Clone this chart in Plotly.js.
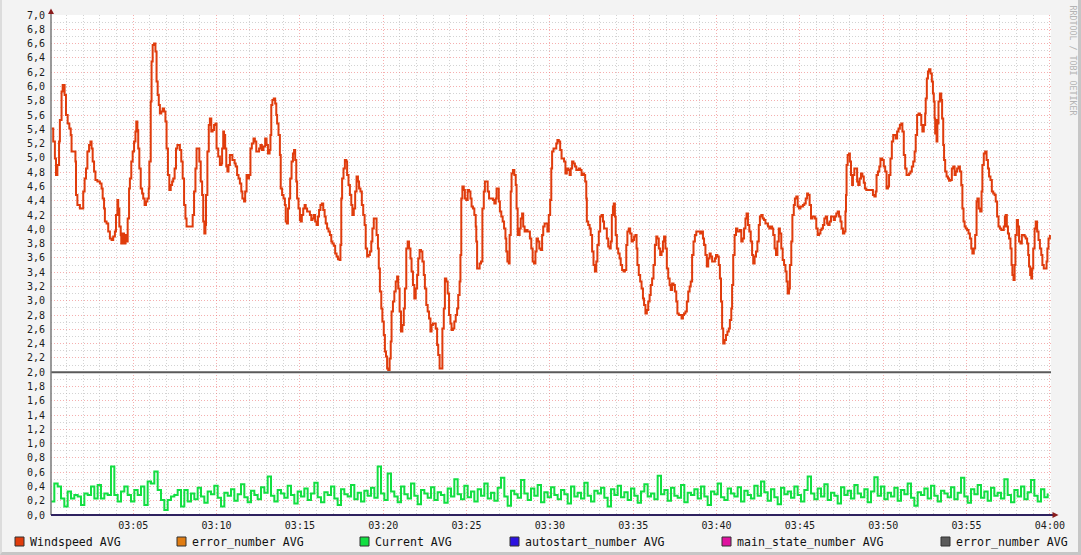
<!DOCTYPE html>
<html><head><meta charset="utf-8">
<script src="https://cdn.plot.ly/plotly-3.0.1.min.js"></script>
<style>
html,body{margin:0;padding:0;background:#f3f3f3;}
#wrap{position:relative;width:1081px;height:555px;overflow:hidden;}
#chart{width:1081px;height:555px;}
#frame{position:absolute;left:0;top:0;width:1081px;height:555px;box-sizing:border-box;border-right:3px solid #c6c6c6;border-bottom:3px solid #c6c6c6;border-left:2px solid #dcdcdc;pointer-events:none;}
</style></head>
<body><div id="wrap"><div id="chart"></div><div id="frame"></div></div>
<script>
// ---- data (seconds after chart start, 03:00:04) ----
const windTimes = [2,8,14,18,23,29,32,38,42,49,54,60,66,71,74,83,88,90,95,104,112,116,121,126,131,137,142,146,150,155,160,167,176,182,186,191,194,200,206,212,218,224,230,234,239,242,246,251,253,258,263,268,272,276,281,284,289,294,299,304,307,311,314,318,323,328,332,337,342,347,352,354,359,362,366,371,376,380,384,388,392,397,402,407,412,416,421,426,431,436,440,445,450,455,460,464,469,474,479,484,488,498,505,510,515,520,524,529,534,539,544,548,552,556,558,563,568,572,577,582,587,592,596,602,608,
613,616,620,623,627,631,635,639,644,649,653,661,665,670,675,680,685,689,695,699,704,709,713,718,723,729,734,739,745,749,754,759,765,771,776,781,787,790,793,797,802,807,811,814,819,824,827,832,837,842,845,849,853,857,861,866,871,875,879,883,886,891,896,899,903,908,913,917,922,927,932,937,941,946,951,956,961,965,970,975,980,985,989,994,999,1004,1009,1013,1018,1023,1028,1033,1039,1042,1045,1048,1053,1058,1063,1066,1071,1076,1081,1085,1090,1095,1100,1105,1109,1114,1119,1124,1129,1133,1138,1143,1148,1153,1157,1162,1167,1172,1177,1180,1184,1189,1193,1198,1202,
1206,1210,1214,1219,1223,1226,1231,1236,1241,1246,1250,1255,1260,1265,1270,1274,1279,1284,1289,1294,1298,1303,1308,1313,1318,1322,1327,1332,1337,1342,1346,1351,1356,1361,1366,1370,1375,1380,1385,1390,1394,1399,1404,1409,1414,1418,1423,1428,1433,1438,1442,1447,1452,1457,1462,1466,1471,1474,1477,1481,1486,1490,1495,1500,1505,1510,1514,1519,1524,1529,1531,1534,1538,1543,1548,1553,1558,1562,1567,1572,1577,1582,1586,1591,1596,1601,1604,1608,1612,1616,1621,1626,1631,1636,1639,1643,1648,1651,1655,1658,1663,1668,1673,1676,1680,1684,1687,1691,1696,1700,1705,1710,1715,1720,1724,1729,1734,1739,1744,1748,1753,1758,1763,1768,1772,1777,1782,1787,1792,1797,
1801,1804,1809,1814,1819,1823,1828,1833,1838,1843,1847,1852,1857,1862,1867,1871,1876,1881,1886,1891,1895,1900,1905,1910,1915,1919,1923,1927,1929,1934,1939,1943,1948,1953,1958,1963,1967,1972,1977,1982,1987,1991,1996,2001,2006,2011,2015,2019,2023,2026,2030,2033,2037,2042,2047,2051,2056,2061,2066,2071,2075,2080,2085,2090,2095,2099,2104,2108,2111,2116,2121,2126,2131,2135,2140,2145,2150,2155,2159,2164,2169,2174,2179,2183,2188,2193,2198,2203,2207,2212,2217,2222,2227,2231,2236,2241,2246,2251,2255,2260,2265,2270,2275,2279,2284,2289,2294,2299,2303,2308,2313,2318,2323,2327,2332,2337,2342,2347,2351,2356,2361,2366,2371,2375,2380,2385,2390,
2394,2399,2404,2408,2412,2416,2420,2425,2430,2435,2440,2444,2449,2452,2456,2461,2466,2471,2476,2480,2485,2490,2495,2500,2504,2509,2514,2519,2524,2528,2533,2538,2543,2548,2552,2557,2562,2567,2572,2576,2581,2586,2591,2596,2600,2605,2610,2615,2620,2624,2629,2634,2639,2644,2648,2652,2657,2660,2665,2669,2674,2678,2683,2688,2693,2698,2702,2707,2712,2717,2722,2726,2731,2736,2741,2746,2750,2755,2760,2765,2770,2774,2779,2784,2789,2794,2798,2803,2808,2813,2818,2822,2827,2832,2837,2842,2846,2851,2856,2860,2862,2864,2868,2873,2876,2880,2884,2887,2892,2897,2902,2906,2911,2916,2921,2926,2930,2935,2940,2945,2950,2954,2959,2964,2969,2972,2977,2982,2986,
2993,2998,3003,3008,3013,3017,3022,3027,3032,3037,3041,3046,3051,3056,3061,3065,3070,3075,3080,3085,3089,3094,3099,3104,3109,3113,3118,3123,3128,3133,3137,3142,3147,3149,3153,3157,3161,3166,3171,3175,3178,3181,3183,3185,3188,3191,3195,3200,3205,3208,3212,3215,3219,3224,3229,3233,3238,3243,3248,3253,3257,3262,3267,3272,3277,3281,3285,3289,3293,3298,3303,3308,3313,3317,3322,3327,3332,3335,3340,3345,3350,3353,3358,3363,3368,3373,3377,3382,3387,3392,3397,3401,3406,3411,3416,3421,3425,3430,3434,3437,3441,3445,3449,3454,3458,3461,3465,3469,3472,3477,3481,3485,3490,3495,3500,3505,3509,3514,3518,3521,3525,3529,3532,3536,3541,3545,3550,3555,3560,3565,3569,3574,3579,3584,3587,3591,3596];

const windValues = [5.41,5.23,4.99,4.76,4.90,5.23,5.53,5.93,6.02,5.88,5.60,5.48,5.41,5.32,5.09,5.09,4.95,4.48,4.34,4.29,4.29,4.53,4.71,4.85,5.09,5.18,5.23,5.13,4.95,4.81,4.69,4.67,4.64,4.57,4.43,4.29,4.11,4.08,3.97,3.87,3.85,3.90,3.97,4.20,4.41,4.29,4.04,3.92,3.80,3.94,3.80,3.92,3.83,4.15,4.57,4.71,4.95,5.09,5.23,5.37,5.51,5.39,5.13,4.85,4.57,4.50,4.43,4.34,4.39,4.43,4.57,4.95,5.79,6.35,6.58,6.60,6.49,6.07,5.88,5.74,5.62,5.65,5.69,5.65,5.51,5.13,4.76,4.55,4.62,4.67,4.71,4.85,5.13,5.18,5.18,5.11,4.95,4.71,4.34,4.15,4.04,4.04,4.04,4.20,4.53,4.85,5.13,5.13,4.95,4.67,4.48,4.11,3.94,4.06,4.48,5.09,5.46,5.55,5.37,5.39,5.46,5.48,5.13,5.02,4.90,
4.92,5.13,5.37,5.32,5.13,4.88,4.81,4.90,5.04,5.04,4.97,4.92,4.88,4.76,4.71,4.64,4.53,4.43,4.39,4.53,4.76,4.71,4.76,5.13,5.20,5.27,5.23,5.09,5.09,5.13,5.18,5.11,5.16,5.27,5.18,5.06,5.11,5.32,5.74,5.81,5.83,5.76,5.60,5.48,5.32,5.04,4.57,4.48,4.43,4.34,4.11,4.08,4.29,4.43,4.71,4.95,5.06,5.11,4.97,4.67,4.43,4.29,4.13,4.11,4.20,4.29,4.34,4.29,4.25,4.25,4.20,4.13,4.15,4.20,4.11,4.06,4.18,4.27,4.34,4.36,4.27,4.18,4.08,4.01,3.97,3.92,3.83,3.80,3.77,3.66,3.62,3.58,3.57,3.78,4.43,4.71,4.85,4.97,4.95,4.76,4.62,4.48,4.34,4.20,4.29,4.53,4.74,4.67,4.57,4.53,4.34,4.20,4.06,3.73,3.62,3.64,3.69,3.83,4.01,4.15,4.15,3.92,3.73,3.45,3.13,2.89,2.71,2.52,2.29,
2.22,2.05,2.03,2.19,2.43,2.85,2.99,3.13,3.27,3.34,3.17,2.85,2.57,2.66,2.89,3.17,3.73,3.83,3.73,3.59,3.41,3.22,3.03,3.17,3.36,3.59,3.71,3.69,3.55,3.36,3.17,2.94,2.85,2.75,2.57,2.66,2.68,2.68,2.61,2.38,2.24,2.05,2.05,2.61,2.89,3.31,3.27,3.10,2.80,2.68,2.59,2.61,2.71,2.80,2.89,3.08,3.27,3.64,4.43,4.60,4.55,4.43,4.41,4.55,4.53,4.43,4.32,4.29,4.20,4.04,3.83,3.45,3.45,3.52,3.55,4.29,4.53,4.67,4.67,4.53,4.43,4.43,4.43,4.41,4.36,4.43,4.57,4.57,4.39,4.25,4.18,4.11,4.01,3.87,3.69,3.55,3.52,3.92,4.53,4.78,4.83,4.76,4.62,4.29,3.92,3.92,4.01,4.15,4.22,4.04,3.97,3.99,3.97,3.97,3.87,3.73,3.55,3.52,3.69,3.87,3.83,3.73,3.71,3.92,4.04,4.08,4.08,3.97,4.20,4.41,
4.85,5.09,5.13,5.13,5.20,5.25,5.23,5.11,4.99,4.99,4.95,4.78,4.85,4.83,4.76,4.85,4.95,4.92,4.88,4.83,4.83,4.85,4.83,4.76,4.78,4.76,4.67,4.43,4.11,4.06,4.01,3.92,3.69,3.50,3.41,3.55,3.78,3.97,4.18,4.20,4.11,4.01,4.01,3.87,3.76,3.73,3.83,4.20,4.32,4.36,4.18,3.92,3.73,3.66,3.59,3.50,3.43,3.41,3.43,3.78,3.97,4.01,3.94,3.83,3.85,3.90,3.92,3.73,3.50,3.36,3.27,3.17,3.03,2.94,2.82,2.87,2.99,3.08,3.22,3.31,3.50,3.78,3.90,3.87,3.73,3.64,3.69,3.83,3.90,3.73,3.45,3.31,3.22,3.15,3.24,3.22,3.13,2.99,2.82,2.80,2.80,2.75,2.80,2.82,2.85,2.99,3.13,3.20,3.27,3.64,3.83,3.92,3.97,3.97,3.97,3.94,3.97,3.87,3.78,3.64,3.48,3.59,3.66,3.62,3.55,3.55,3.59,
3.64,3.62,3.50,3.31,2.99,2.61,2.40,2.45,2.52,2.57,2.61,2.73,2.89,3.22,3.64,3.92,4.01,3.97,3.97,3.99,3.83,3.87,4.01,4.15,4.22,4.06,3.97,3.83,3.64,3.52,3.62,3.69,3.83,4.06,4.18,4.20,4.15,4.13,4.08,4.08,4.04,4.01,4.04,4.01,3.92,3.73,3.64,3.83,4.01,3.94,3.73,3.57,3.50,3.41,3.27,3.10,3.17,3.50,3.83,4.20,4.34,4.43,4.46,4.32,4.29,4.32,4.32,4.34,4.36,4.43,4.50,4.48,4.34,4.15,4.18,4.18,4.15,4.01,3.92,3.94,3.99,4.01,4.06,4.15,4.18,4.08,4.06,4.11,4.18,4.18,4.13,4.18,4.22,4.25,4.18,4.11,4.01,3.94,3.97,4.25,4.48,4.90,5.04,5.06,4.95,4.76,4.62,4.76,4.85,4.85,4.67,4.62,4.71,4.78,4.74,4.65,4.57,4.55,4.55,4.55,4.55,4.55,4.48,4.46,4.53,4.76,4.81,4.88,4.99,
4.97,4.88,4.81,4.57,4.60,4.76,4.99,5.23,5.32,5.32,5.27,5.37,5.41,5.46,5.48,5.37,5.04,4.85,4.76,4.76,4.78,4.81,4.88,4.95,5.09,5.32,5.60,5.62,5.60,5.46,5.37,5.46,5.62,5.83,6.11,6.21,6.24,6.18,6.07,5.90,5.79,5.55,5.34,5.53,5.23,5.48,5.79,5.90,5.81,5.55,5.18,4.97,4.81,4.74,4.71,4.68,4.69,4.85,4.88,4.76,4.81,4.85,4.88,4.81,4.62,4.29,4.11,4.04,4.01,3.99,3.94,3.87,3.73,3.66,3.73,3.92,4.39,4.43,4.29,4.25,4.53,4.90,5.06,5.09,4.97,4.85,4.74,4.69,4.53,4.50,4.48,4.39,4.18,4.04,4.01,3.99,3.99,4.04,4.18,4.20,4.04,3.94,3.87,3.73,3.50,3.36,3.29,3.50,3.92,4.13,4.04,3.83,3.80,3.92,3.92,3.90,3.87,3.80,3.64,3.48,3.36,3.31,3.45,3.73,4.01,4.11,3.97,3.85,3.73,3.64,3.50,3.45,3.45,3.55,3.73,3.87,3.92];

const currentStep = 12; // seconds between Current samples
const currentValues = [0.19,0.44,0.40,0.23,0.12,0.33,0.23,0.28,0.26,0.14,0.30,0.28,0.40,0.23,0.42,0.23,0.30,0.28,0.68,0.28,0.19,0.33,0.40,0.28,0.19,0.35,0.28,0.40,0.14,0.47,0.44,0.61,0.35,0.21,0.07,0.21,0.26,0.28,0.35,0.12,0.35,0.19,
0.30,0.22,0.38,0.26,0.17,0.33,0.29,0.41,0.24,0.12,
0.31,0.27,0.36,0.20,0.29,0.43,0.25,0.18,0.34,0.28,
0.22,0.39,0.31,0.54,0.27,0.19,0.35,0.30,0.24,0.41,
0.28,0.16,0.33,0.26,0.37,0.21,0.30,0.45,0.25,0.18,
0.32,0.28,0.40,0.23,0.14,0.36,0.29,0.26,0.42,0.22,
0.31,0.19,0.34,0.27,0.38,0.24,0.68,0.30,0.21,0.58,
0.33,0.26,0.18,0.40,0.29,0.23,0.44,0.27,0.15,0.35,
0.30,0.24,0.39,0.21,0.32,0.28,0.17,0.37,0.26,0.50,
0.29,0.22,0.41,0.25,0.33,0.19,0.36,0.27,0.44,0.23,
0.31,0.20,0.38,0.52,0.26,0.13,0.34,0.29,0.24,0.49,
0.30,0.21,0.37,0.27,0.42,0.18,0.32,0.25,0.39,0.28,
0.22,0.35,0.29,0.16,0.40,0.26,0.31,0.23,0.45,0.27,
0.19,0.34,0.30,0.38,0.24,0.12,0.36,0.28,0.41,0.25,
0.32,0.21,0.37,0.27,0.17,0.33,0.43,0.26,0.30,0.22,
0.55,0.29,0.35,0.20,0.38,0.27,0.24,0.42,0.18,0.31,
0.28,0.36,0.23,0.40,0.26,0.14,0.33,0.29,0.44,0.25,
0.21,0.37,0.30,0.26,0.39,0.19,0.34,0.28,0.23,0.41,
0.27,0.47,0.32,0.20,0.36,0.25,0.15,0.38,0.29,0.33,
0.24,0.40,0.28,0.19,0.35,0.54,0.30,0.22,0.37,0.26,
0.43,0.21,0.31,0.27,0.16,0.39,0.28,0.34,0.23,0.42,
0.30,0.25,0.36,0.18,0.33,0.53,0.27,0.40,0.22,0.31,
0.26,0.38,0.20,0.35,0.29,0.44,0.24,0.13,0.32,0.28,
0.37,0.23,0.41,0.27,0.19,0.34,0.30,0.25,0.39,0.22,
0.31,0.52,0.26,0.17,0.36,0.29,0.42,0.24,0.33,0.20,
0.38,0.27,0.31,0.23,0.50,0.28,0.18,0.35,0.26,0.40,
0.22,0.32,0.49,0.27,0.19,0.36,0.25,0.30];

// grey error_number series (flat at 2.0 across the hour)
const errorNumber2Times = [0, 3600];
const errorNumber2Values = [2.0, 2.0];

const legendLabels = ['Windspeed AVG','error_number AVG','Current AVG','autostart_number AVG','main_state_number AVG','error_number AVG'];
const legendColors = ['#e03c0c','#e07c12','#12df42','#2c12e0','#e012a0','#5a5a5a'];
const signature = 'RRDTOOL / TOBI OETIKER';

// ---- geometry / style ----
const startMs = Date.UTC(2024,0,1,3,0,4);
const tickBase = Date.UTC(2024,0,1,3,0,0);
const toX = s => startMs + s*1000;

const traces = [
  {x: windTimes.map(toX), y: windValues, type:'scatter', mode:'lines', name:'Windspeed AVG',
   line:{color:legendColors[0], width:2, shape:'hv'}, hoverinfo:'skip'},
  {x: currentValues.map((v,i)=>toX(i*currentStep)), y: currentValues, type:'scatter', mode:'lines', name:'Current AVG',
   line:{color:legendColors[2], width:2, shape:'hv'}, hoverinfo:'skip'},
  {x: errorNumber2Times.map(toX), y: errorNumber2Values, type:'scatter', mode:'lines', name:'error_number AVG',
   line:{color:legendColors[5], width:2}, hoverinfo:'skip'}
];

const PW = 1000, PH = 500, L = 51, T = 15;
const px = p => (p - L)/PW;          // pixel x -> paper x
const py = q => (T + PH - q)/PH;      // pixel y -> paper y

const legendBoxLeft = [15,177,360,510,722,941];
const shapes = [];
const annotations = [];
legendLabels.forEach((lab,i)=>{
  shapes.push({type:'rect', xref:'paper', yref:'paper', x0:px(legendBoxLeft[i]), x1:px(legendBoxLeft[i]+9),
    y0:py(546), y1:py(537), fillcolor:legendColors[i], line:{color:'#303030', width:1}});
  annotations.push({xref:'paper', yref:'paper', x:px(legendBoxLeft[i]+13), y:py(541.5), xanchor:'left', yanchor:'middle',
    text:lab, showarrow:false, font:{family:'DejaVu Sans Mono', size:11.6, color:'#111'}});
});
// axis lines and arrows
shapes.push({type:'line', xref:'paper', yref:'paper', x0:0, x1:0, y0:0, y1:py(11), line:{color:'#7a7a7a', width:1.5}, layer:'above'});
shapes.push({type:'line', xref:'paper', yref:'paper', x0:0, x1:px(1053), y0:0, y1:0, line:{color:'#2e2260', width:2}, layer:'above'});
shapes.push({type:'path', xref:'paper', yref:'paper', layer:'above',
  path:`M ${px(48)} ${py(14)} L ${px(54)} ${py(14)} L ${px(51)} ${py(8.5)} Z`, fillcolor:'#8a1c1c', line:{width:0}});
shapes.push({type:'path', xref:'paper', yref:'paper', layer:'above',
  path:`M ${px(1052.5)} ${py(512)} L ${px(1052.5)} ${py(518)} L ${px(1058.5)} ${py(515)} Z`, fillcolor:'#8a1c1c', line:{width:0}});

annotations.push({xref:'paper', yref:'paper', x:px(1072.5), y:py(60), text:signature, textangle:90, showarrow:false,
  xanchor:'center', yanchor:'middle', font:{family:'DejaVu Sans Mono', size:8.3, color:'#b4b4b4'}});

const majorGrid = 'rgba(236,110,110,0.55)';
const minorGrid = 'rgba(175,175,175,0.55)';
const layout = {
  width:1081, height:555,
  margin:{l:L, r:30, t:T, b:40, pad:0},
  paper_bgcolor:'#f3f3f3', plot_bgcolor:'#ffffff',
  separators:',.',
  showlegend:false,
  font:{family:'DejaVu Sans Mono', size:10, color:'#1a1a1a'},
  xaxis:{type:'date', range:[startMs, startMs+3600*1000], tick0:tickBase, dtick:300000, tickformat:'%H:%M',
    showgrid:true, gridcolor:majorGrid, griddash:'1px,2px', gridwidth:1,
    minor:{dtick:60000, tick0:tickBase, showgrid:true, gridcolor:minorGrid, griddash:'1px,2px', gridwidth:1, ticks:''},
    showline:false, zeroline:false, ticks:'', ticklabelstandoff:3, fixedrange:true,
    tickfont:{family:'DejaVu Sans Mono', size:10, color:'#1a1a1a'}},
  yaxis:{range:[0,7], tick0:0, dtick:0.2, tickformat:'.1f',
    showgrid:true, gridcolor:majorGrid, griddash:'1px,2px', gridwidth:1,
    minor:{dtick:0.1, tick0:0, showgrid:true, gridcolor:minorGrid, griddash:'1px,2px', gridwidth:1, ticks:''},
    showline:false, zeroline:false, ticks:'', ticklabelstandoff:5, fixedrange:true,
    tickfont:{family:'DejaVu Sans Mono', size:10, color:'#1a1a1a'}},
  shapes, annotations
};
Plotly.newPlot('chart', traces, layout, {staticPlot:true, displayModeBar:false});
</script></body></html>
